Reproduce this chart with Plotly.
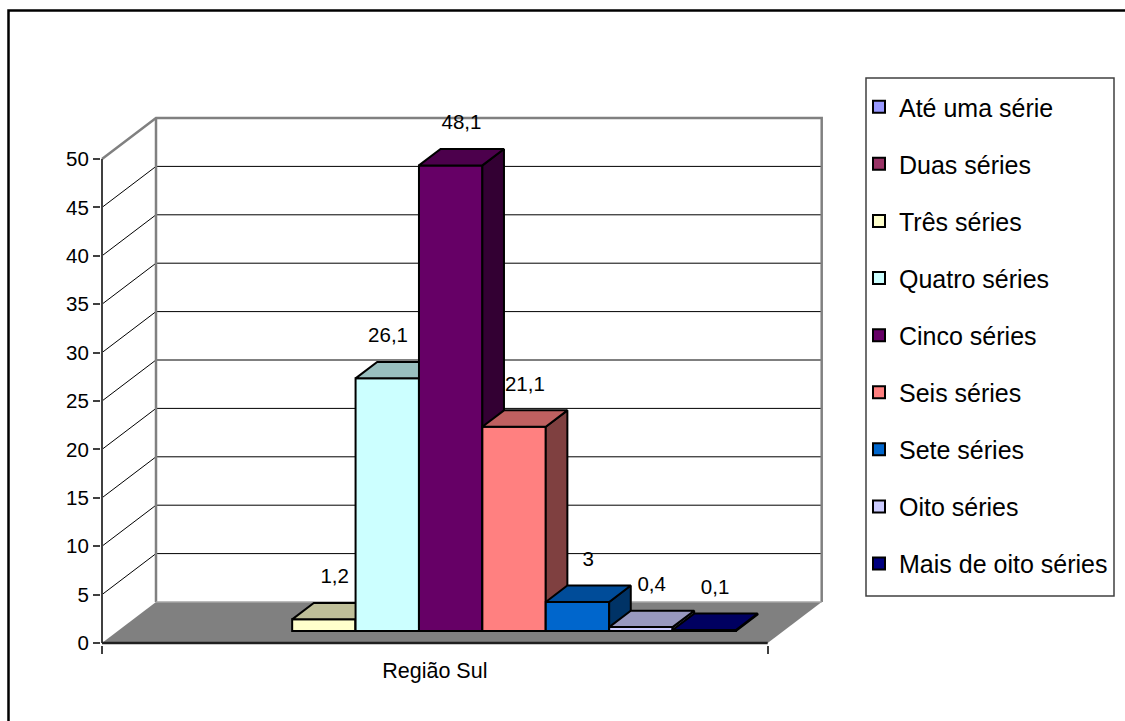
import plotly.graph_objects as go

# ---- data -------------------------------------------------------------
CATEGORIES = ["Região Sul"]
SERIES = [
    "Até uma série", "Duas séries", "Três séries", "Quatro séries",
    "Cinco séries", "Seis séries", "Sete séries", "Oito séries",
    "Mais de oito séries",
]
VALUES = [None, None, 1.2, 26.1, 48.1, 21.1, 3, 0.4, 0.1]
Y_TICKS = [0, 5, 10, 15, 20, 25, 30, 35, 40, 45, 50]

# ---- styling ----------------------------------------------------------
COLORS = ["#9999FF", "#993366", "#FFFFCC", "#CCFFFF", "#660066",
          "#FF8080", "#0066CC", "#CCCCFF", "#000080"]
FONT = "Liberation Sans, Arial, sans-serif"

W, H = 1125, 721
PX_X = 63.4          # pixels per bar width
PX_Y = 9.68          # pixels per value unit
ORIGIN_X, ORIGIN_Y = 102, 643      # front-left corner of the floor
DEPTH_PX_X, DEPTH_PX_Y = 54, 41    # oblique offset of the back wall
PLOT_L, PLOT_R, PLOT_T, PLOT_B = 101, 830, 100, 645

DX = DEPTH_PX_X / PX_X             # depth offset in data units
DY = DEPTH_PX_Y / PX_Y
GAP = 0.75                         # side gap of the category, in bar widths
CAT_W = len(SERIES) + 2 * GAP
BAR_FRONT = 0.293                  # depth fraction where bars start
BAR_DEPTH = 0.40                   # bar depth as a fraction of the floor depth
WALL_TOP = Y_TICKS[-1]
LABEL_GAP_PX = 33
LABEL_SHIFT_PX = {3: -10}


def shade(hex_color, f):
    h = hex_color.lstrip("#")
    r, g, b = (int(h[i:i + 2], 16) for i in (0, 2, 4))
    return "#%02X%02X%02X" % (int(r * f), int(g * f), int(b * f))


def px_to_paper(px, py):
    return ((px - PLOT_L) / (PLOT_R - PLOT_L), (PLOT_B - py) / (PLOT_B - PLOT_T))


def poly(xs, ys, fill, line_color=None, line_width=0, z=0):
    return go.Scatter(
        x=list(xs) + [xs[0]], y=list(ys) + [ys[0]], mode="lines",
        fill="toself", fillcolor=fill,
        line=dict(color=line_color or fill, width=line_width),
        showlegend=False, hoverinfo="skip", zorder=z,
    )


def path(xs, ys, color, width, z=0):
    return go.Scatter(x=xs, y=ys, mode="lines", line=dict(color=color, width=width),
                      showlegend=False, hoverinfo="skip", zorder=z)


fig = go.Figure()

# floor
fig.add_trace(poly([0, CAT_W, CAT_W + DX, DX], [0, 0, DY, DY], "#808080"))

# gridlines on the back wall and the left wall
gx, gy = [], []
for v in Y_TICKS[1:-1]:
    gx += [0, DX, CAT_W + DX, None]
    gy += [v, v + DY, v + DY, None]
fig.add_trace(path(gx, gy, "#000000", 1))

# wall borders
fig.add_trace(path([0, DX, CAT_W + DX, CAT_W + DX, None, DX, DX],
                   [WALL_TOP, WALL_TOP + DY, WALL_TOP + DY, DY, None, WALL_TOP + DY, DY],
                   "#808080", 2.5))
fig.add_trace(path([DX, CAT_W + DX], [DY, DY], "#A6A6A6", 1.5))

# front value axis and floor front edge
fig.add_trace(path([0, 0], [0, WALL_TOP], "#404040", 2))
fig.add_trace(path([0, CAT_W], [0, 0], "#202020", 2.5))

# 3-D columns, drawn left to right so nearer faces cover hidden ones
lab_x, lab_y, lab_t = [], [], []
bx = BAR_FRONT * DX
by = BAR_FRONT * DY
ddx = BAR_DEPTH * DX
ddy = BAR_DEPTH * DY
for i, (name, val, col) in enumerate(zip(SERIES, VALUES, COLORS)):
    z = i + 1
    x0 = GAP + i + bx
    fig.add_trace(go.Bar(
        x=[x0 + 0.5], y=[val], base=[by], width=[1.0], name=name,
        legendgroup=name, zorder=z,
        marker=dict(color=col, line=dict(color="#000000", width=2)),
        hoverinfo="skip",
    ))
    if val is None:
        continue
    top = by + val
    # right side face
    fig.add_trace(poly([x0 + 1, x0 + 1 + ddx, x0 + 1 + ddx, x0 + 1],
                       [by, by + ddy, top + ddy, top],
                       shade(col, 0.5), "#000000", 2, z))
    # top face
    fig.add_trace(poly([x0, x0 + 1, x0 + 1 + ddx, x0 + ddx],
                       [top, top, top + ddy, top + ddy],
                       shade(col, 0.75), "#000000", 2, z))
    lab_x.append(x0 + 0.5 + ddx / 2 + LABEL_SHIFT_PX.get(i, 0) / PX_X)
    lab_y.append(top + ddy / 2 + LABEL_GAP_PX / PX_Y)
    lab_t.append(("%g" % val).replace(".", ","))

fig.add_trace(go.Scatter(
    x=lab_x, y=lab_y, text=lab_t, mode="text", textposition="middle center",
    textfont=dict(family=FONT, size=20.5, color="#000000"),
    cliponaxis=False, showlegend=False, hoverinfo="skip", zorder=50,
))

# legend frame and chart frame
lx0, ly0 = px_to_paper(866, 78)
lx1, ly1 = px_to_paper(1114, 596)
ox0, oy0 = px_to_paper(8.5, 10.5)
ox1, oy1 = px_to_paper(1140, 740)
shapes = [
    dict(type="rect", xref="paper", yref="paper", x0=lx0, y0=ly1, x1=lx1, y1=ly0,
         line=dict(color="#404040", width=1.5)),
    dict(type="rect", xref="paper", yref="paper", x0=ox0, y0=oy1, x1=ox1, y1=oy0,
         line=dict(color="#000000", width=2.5)),
]

fig.update_layout(
    width=W, height=H, autosize=False,
    margin=dict(l=PLOT_L, r=W - PLOT_R, t=PLOT_T, b=H - PLOT_B, pad=0),
    paper_bgcolor="#FFFFFF", plot_bgcolor="rgba(0,0,0,0)",
    font=dict(family=FONT, color="#000000"),
    barmode="overlay",
    showlegend=True,
    legend=dict(
        xref="container", yref="container",
        x=859 / W, y=1 - 84 / H, xanchor="left", yanchor="top",
        font=dict(family=FONT, size=25, color="#000000"),
        bgcolor="rgba(0,0,0,0)", borderwidth=0,
        traceorder="grouped", tracegroupgap=21.6,
        maxheight=700,
    ),
    xaxis=dict(
        range=[(PLOT_L - ORIGIN_X) / PX_X, (PLOT_R - ORIGIN_X) / PX_X],
        showgrid=False, zeroline=False, showline=False,
        tickvals=[CAT_W / 2], ticktext=CATEGORIES, ticks="",
        tickfont=dict(family=FONT, size=21.5, color="#000000"),
        ticklabelstandoff=10,
        minor=dict(tickvals=[0, CAT_W], ticks="outside", ticklen=8,
                   tickwidth=1.5, tickcolor="#404040"),
        fixedrange=True,
    ),
    yaxis=dict(
        range=[(ORIGIN_Y - PLOT_B) / PX_Y, (ORIGIN_Y - PLOT_T) / PX_Y],
        showgrid=False, zeroline=False, showline=False,
        tickvals=Y_TICKS, ticks="outside", ticklen=7, tickwidth=1.5,
        tickcolor="#404040",
        tickfont=dict(family=FONT, size=20.5, color="#000000"),
        fixedrange=True,
    ),
    shapes=shapes,
)

fig.write_html("out.html")
